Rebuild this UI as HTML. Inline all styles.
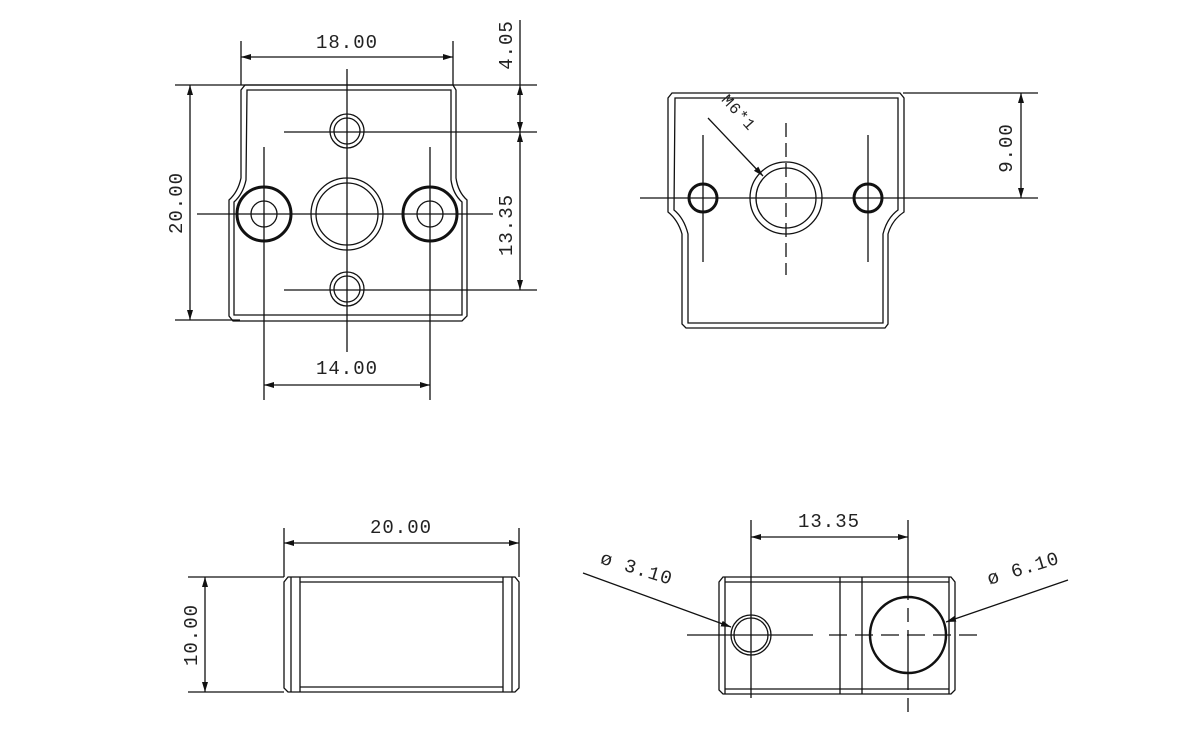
<!DOCTYPE html>
<html><head><style>
html,body{margin:0;padding:0;background:#fff;}
svg{display:block;}
text{font-family:"Liberation Mono","DejaVu Sans Mono",monospace;font-size:19px;fill:#222;letter-spacing:1px;}
</style></head><body>
<svg width="1200" height="742" viewBox="0 0 1200 742" xmlns="http://www.w3.org/2000/svg">
<defs>
<marker id="a" viewBox="0 0 10 6" refX="10" refY="3" markerWidth="10" markerHeight="6" orient="auto-start-reverse" markerUnits="userSpaceOnUse"><path d="M0,0 L10,3 L0,6z" fill="#111"/></marker>
</defs>
<g stroke="#111" fill="none" stroke-width="1.3">
<!-- TOP LEFT VIEW -->
<path d="M245,85 L453,85 L456,90 L456,178 Q458,192 467,200 L467,316 L462,321 L233,321 L229,316 L229,200 Q238,192 241,178 L241,90 Z"/>
<path d="M247,90 L451,90 L451,180 Q453,194 462,202 L462,315 L234,315 L234,202 Q243,194 246,180 Z"/>
<circle cx="347" cy="131" r="17"/><circle cx="347" cy="131" r="13"/>
<circle cx="347" cy="289" r="17"/><circle cx="347" cy="289" r="13"/>
<circle cx="347" cy="214" r="36"/><circle cx="347" cy="214" r="31"/>
<circle cx="264" cy="214" r="27" stroke-width="3"/><circle cx="264" cy="214" r="13"/>
<circle cx="430" cy="214" r="27" stroke-width="3"/><circle cx="430" cy="214" r="13"/>
<line x1="284" y1="132" x2="537" y2="132"/>
<line x1="284" y1="290" x2="537" y2="290"/>
<line x1="197" y1="214" x2="493" y2="214"/>
<line x1="347" y1="69" x2="347" y2="352"/>
<line x1="264" y1="147" x2="264" y2="400"/>
<line x1="430" y1="147" x2="430" y2="400"/>
<line x1="241" y1="41" x2="241" y2="85"/><line x1="453" y1="41" x2="453" y2="85"/>
<line x1="241" y1="57" x2="453" y2="57" marker-start="url(#a)" marker-end="url(#a)"/>
<line x1="175" y1="85" x2="537" y2="85"/><line x1="175" y1="320" x2="240" y2="320"/>
<line x1="190" y1="85" x2="190" y2="320" marker-start="url(#a)" marker-end="url(#a)"/>
<line x1="520" y1="20" x2="520" y2="85"/>
<line x1="520" y1="85" x2="520" y2="132" marker-start="url(#a)" marker-end="url(#a)"/>
<line x1="520" y1="132" x2="520" y2="290" marker-start="url(#a)" marker-end="url(#a)"/>
<line x1="264" y1="385" x2="430" y2="385" marker-start="url(#a)" marker-end="url(#a)"/>
<!-- TOP RIGHT VIEW -->
<path d="M672,93 L900,93 L904,98 L904,212 Q892,220 888,234 L888,324 L885,328 L686,328 L682,324 L682,234 Q678,220 668,212 L668,98 Z"/>
<path d="M675,98 L898,98 L898,210 Q887,218 883,234 L883,323 L688,323 L688,234 Q684,218 674,210 Z"/>
<circle cx="786" cy="198" r="36"/><circle cx="786" cy="198" r="30"/>
<circle cx="703" cy="198" r="14" stroke-width="3"/>
<circle cx="868" cy="198" r="14" stroke-width="3"/>
<line x1="640" y1="198" x2="1038" y2="198"/>
<line x1="903" y1="93" x2="1038" y2="93"/>
<line x1="1021" y1="93" x2="1021" y2="198" marker-start="url(#a)" marker-end="url(#a)"/>
<line x1="703" y1="135" x2="703" y2="262"/>
<line x1="868" y1="135" x2="868" y2="262"/>
<line x1="786" y1="123" x2="786" y2="275" stroke-dasharray="14,6"/>
<line x1="708" y1="118" x2="763" y2="176" marker-end="url(#a)"/>
<!-- BOTTOM LEFT -->
<path d="M288,577 L515,577 L519,582 L519,688 L515,692 L288,692 L284,688 L284,582 Z"/>
<line x1="291" y1="577" x2="291" y2="692"/><line x1="300" y1="577" x2="300" y2="692"/>
<line x1="503" y1="577" x2="503" y2="692"/><line x1="512" y1="577" x2="512" y2="692"/>
<line x1="300" y1="582" x2="503" y2="582"/><line x1="300" y1="687" x2="503" y2="687"/>
<line x1="284" y1="528" x2="284" y2="577"/><line x1="519" y1="528" x2="519" y2="577"/>
<line x1="284" y1="543" x2="519" y2="543" marker-start="url(#a)" marker-end="url(#a)"/>
<line x1="188" y1="577" x2="284" y2="577"/><line x1="188" y1="692" x2="284" y2="692"/>
<line x1="205" y1="577" x2="205" y2="692" marker-start="url(#a)" marker-end="url(#a)"/>
<!-- BOTTOM RIGHT -->
<path d="M723,577 L951,577 L955,582 L955,690 L951,694 L723,694 L719,690 L719,582 Z"/>
<line x1="725" y1="577" x2="725" y2="694"/><line x1="949" y1="577" x2="949" y2="694"/>
<line x1="725" y1="582" x2="949" y2="582"/><line x1="725" y1="689" x2="949" y2="689"/>
<line x1="840" y1="577" x2="840" y2="694"/><line x1="862" y1="577" x2="862" y2="694"/>
<circle cx="751" cy="635" r="20"/><circle cx="751" cy="635" r="17"/>
<circle cx="908" cy="635" r="38" stroke-width="2.5"/>
<line x1="687" y1="635" x2="813" y2="635"/>
<line x1="829" y1="635" x2="985" y2="635" stroke-dasharray="18,8"/>
<line x1="751" y1="520" x2="751" y2="698"/>
<line x1="908" y1="520" x2="908" y2="712" stroke-dasharray="80,8,14,8,60,8,14"/>
<line x1="751" y1="537" x2="908" y2="537" marker-start="url(#a)" marker-end="url(#a)"/>
<line x1="583" y1="573" x2="731" y2="627" marker-end="url(#a)"/>
<line x1="1068" y1="580" x2="946" y2="622" marker-end="url(#a)"/>
</g>
<text x="347" y="48" text-anchor="middle">18.00</text>
<text x="347" y="374" text-anchor="middle">14.00</text>
<text transform="translate(182,203) rotate(-90)" text-anchor="middle">20.00</text>
<text transform="translate(512,45) rotate(-90)" text-anchor="middle">4.05</text>
<text transform="translate(512,225) rotate(-90)" text-anchor="middle">13.35</text>
<text transform="translate(1012,148) rotate(-90)" text-anchor="middle">9.00</text>
<text transform="translate(735,116) rotate(48)" text-anchor="middle" style="font-size:16px">M6*1</text>
<text x="401" y="533" text-anchor="middle">20.00</text>
<text transform="translate(197,635) rotate(-90)" text-anchor="middle">10.00</text>
<text x="829" y="527" text-anchor="middle">13.35</text>
<text transform="translate(635,574) rotate(17)" text-anchor="middle">ø 3.10</text>
<text transform="translate(1025,574) rotate(-17)" text-anchor="middle">ø 6.10</text>
</svg>
</body></html>
